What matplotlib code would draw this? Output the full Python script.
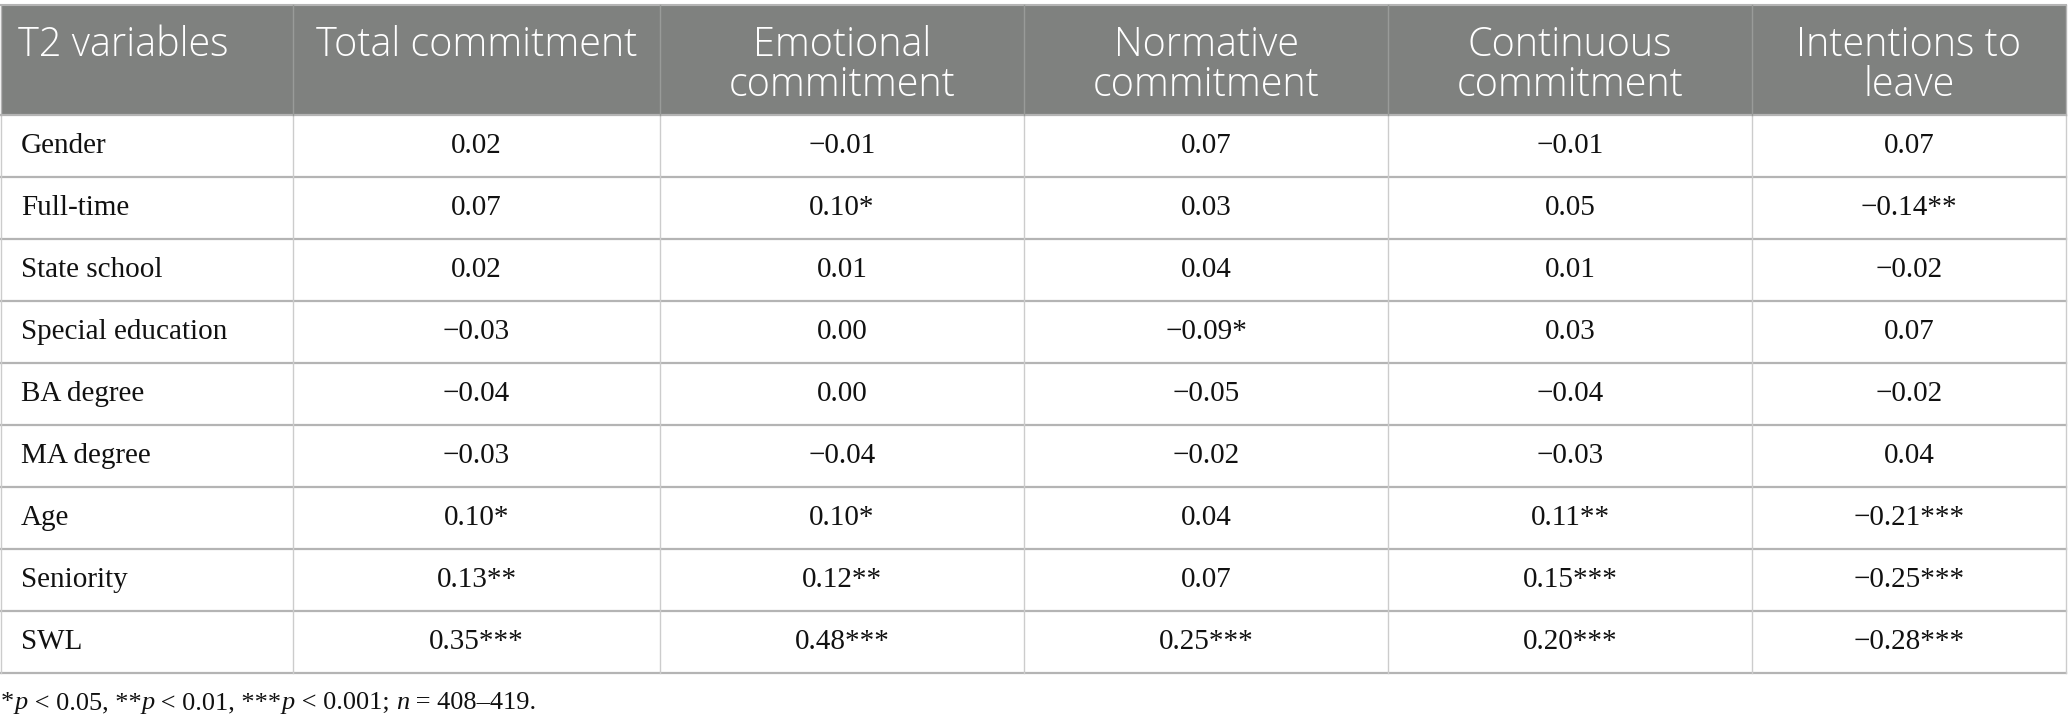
import matplotlib.pyplot as plt
from matplotlib.patches import Rectangle

# -------------------------------------------------
# Table content
# -------------------------------------------------
headers = ['T2 variables', 'Total commitment', 'Emotional\ncommitment',
           'Normative\ncommitment', 'Continuous\ncommitment', 'Intentions to\nleave']

row_labels = ['Gender', 'Full-time', 'State school', 'Special education',
              'BA degree', 'MA degree', 'Age', 'Seniority', 'SWL']

total_commitment = [0.02, 0.07, 0.02, -0.03, -0.04, -0.03, 0.10, 0.13, 0.35]
total_stars      = ['', '', '', '', '', '', '*', '**', '***']

emotional_commitment = [-0.01, 0.10, 0.01, 0.00, 0.00, -0.04, 0.10, 0.12, 0.48]
emotional_stars      = ['', '*', '', '', '', '', '*', '**', '***']

normative_commitment = [0.07, 0.03, 0.04, -0.09, -0.05, -0.02, 0.04, 0.07, 0.25]
normative_stars      = ['', '', '', '*', '', '', '', '', '***']

continuous_commitment = [-0.01, 0.05, 0.01, 0.03, -0.04, -0.03, 0.11, 0.15, 0.20]
continuous_stars      = ['', '', '', '', '', '', '**', '***', '***']

intentions_to_leave = [0.07, -0.14, -0.02, 0.07, -0.02, 0.04, -0.21, -0.25, -0.28]
intentions_stars    = ['', '**', '', '', '', '', '***', '***', '***']

# footnote pieces: (text, italic?)
footnote = [('*', False), ('p', True), (' < 0.05, **', False), ('p', True),
            (' < 0.01, ***', False), ('p', True), (' < 0.001; ', False),
            ('n', True), (' = 408\u2013419.', False)]

columns = [
    (total_commitment, total_stars),
    (emotional_commitment, emotional_stars),
    (normative_commitment, normative_stars),
    (continuous_commitment, continuous_stars),
    (intentions_to_leave, intentions_stars),
]


def fmt(v, s):
    txt = f'{abs(v):.2f}'
    if v < 0:
        txt = '\u2212' + txt
    return txt + s


# -------------------------------------------------
# Layout (pixel coordinates)
# -------------------------------------------------
W, H = 2068, 727
col_edges = [1, 293, 660, 1024, 1388, 1752, 2066]
top = 5
header_bottom = 115
row_h = 62
table_bottom = header_bottom + row_h * len(row_labels)

HEADER_BG = '#7f817f'
HLINE = '#b4b4b4'
VLINE = '#cccccc'
TEXT = '#111111'
SERIF = 'Liberation Serif'
SANS = 'Open Sans'

fig = plt.figure(figsize=(W / 100, H / 100), dpi=100)
ax = fig.add_axes([0, 0, 1, 1])
ax.set_xlim(0, W)
ax.set_ylim(H, 0)
ax.axis('off')

# header band
ax.add_patch(Rectangle((col_edges[0], top), col_edges[-1] - col_edges[0],
                       header_bottom - top, facecolor=HEADER_BG, edgecolor='none'))

# horizontal rules
ax.plot([col_edges[0], col_edges[-1]], [top, top], color=HLINE, lw=1.5)
for i in range(len(row_labels) + 1):
    y = header_bottom + i * row_h
    ax.plot([col_edges[0], col_edges[-1]], [y, y], color=HLINE, lw=1.6)

# vertical rules
for j, x in enumerate(col_edges):
    ax.plot([x, x], [header_bottom, table_bottom], color=VLINE, lw=1.0)
    if 0 < j < len(col_edges) - 1:
        ax.plot([x, x], [top, header_bottom], color='#999b99', lw=1.0)
    else:
        ax.plot([x, x], [top, header_bottom], color=HLINE, lw=1.0)

# header text
for j, h in enumerate(headers):
    for k, line in enumerate(h.split('\n')):
        y = 45 + k * 41
        if j == 0:
            ax.text(18, y, line, ha='left', va='center', color='white',
                    fontsize=28.5, family=SANS, fontweight='light')
        else:
            xc = (col_edges[j] + col_edges[j + 1]) / 2
            ax.text(xc, y, line, ha='center', va='center', color='white',
                    fontsize=28.5, family=SANS, fontweight='light')

# body text
for i, lab in enumerate(row_labels):
    yc = header_bottom + (i + 0.5) * row_h
    ax.text(21, yc, lab, ha='left', va='center', color=TEXT,
            fontsize=21, family=SERIF)
    for j, (vals, stars) in enumerate(columns):
        xc = (col_edges[j + 1] + col_edges[j + 2]) / 2
        ax.text(xc, yc, fmt(vals[i], stars[i]), ha='center', va='center',
                color=TEXT, fontsize=21, family=SERIF)

# footnote, built piece by piece
renderer = fig.canvas.get_renderer()
x_px = 1
for txt, ital in footnote:
    t = ax.text(x_px, 703, txt, ha='left', va='center', color=TEXT,
                fontsize=19, family=SERIF, style='italic' if ital else 'normal')
    bb = t.get_window_extent(renderer=renderer)
    x_px += bb.width

fig.savefig('out.png', dpi=100, facecolor='white')
